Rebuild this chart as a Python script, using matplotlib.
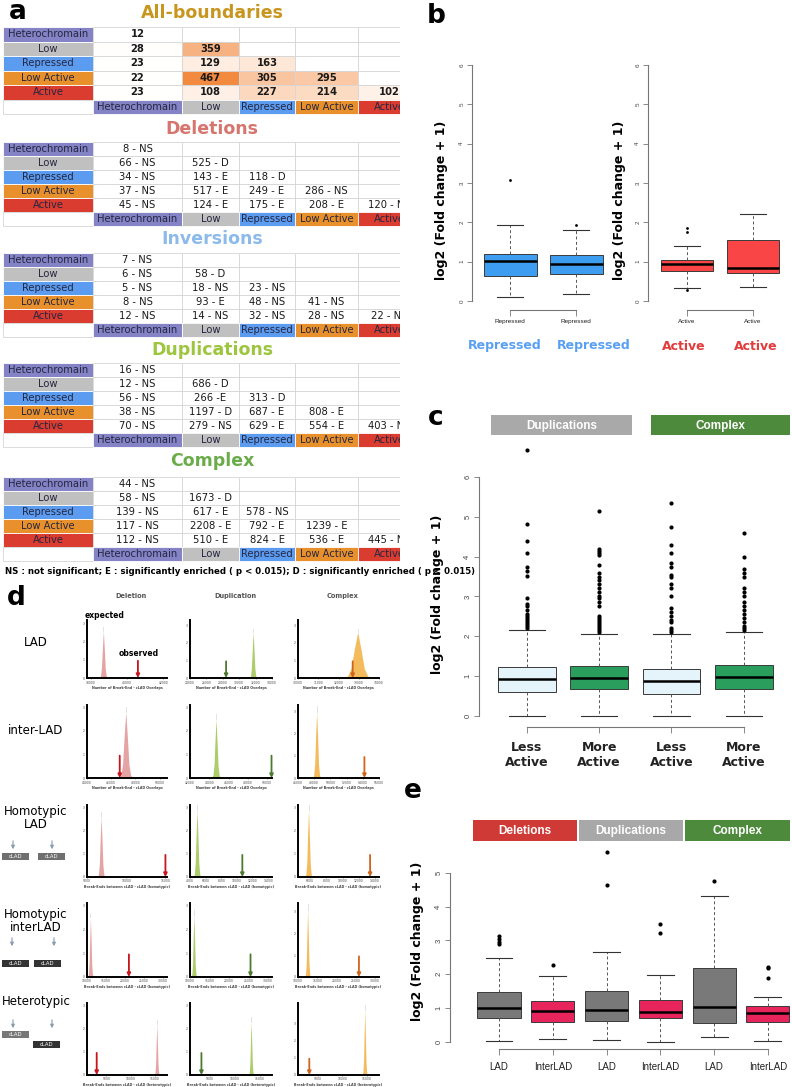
import numpy as np
import matplotlib
matplotlib.use("Agg")
import matplotlib.pyplot as plt
from matplotlib.patches import Rectangle
from matplotlib.colors import LinearSegmentedColormap, Normalize

# ---------------- DATA ----------------
row_labels = ["Heterochromain", "Low", "Repressed", "Low Active", "Active"]
state_colors = ["#8383c6", "#c0c0c0", "#5b9cf0", "#e8912c", "#db3c30"]

all_boundaries = [[12], [28, 359], [23, 129, 163], [22, 467, 305, 295], [23, 108, 227, 214, 102]]
deletions = [["8 - NS"], ["66 - NS", "525 - D"], ["34 - NS", "143 - E", "118 - D"],
             ["37 - NS", "517 - E", "249 - E", "286 - NS"],
             ["45 - NS", "124 - E", "175 - E", "208 - E", "120 - NS"]]
inversions = [["7 - NS"], ["6 - NS", "58 - D"], ["5 - NS", "18 - NS", "23 - NS"],
              ["8 - NS", "93 - E", "48 - NS", "41 - NS"],
              ["12 - NS", "14 - NS", "32 - NS", "28 - NS", "22 - NS"]]
duplications = [["16 - NS"], ["12 - NS", "686 - D"], ["56 - NS", "266 -E", "313 - D"],
                ["38 - NS", "1197 - D", "687 - E", "808 - E"],
                ["70 - NS", "279 - NS", "629 - E", "554 - E", "403 - NS"]]
complex_sv = [["44 - NS"], ["58 - NS", "1673 - D"], ["139 - NS", "617 - E", "578 - NS"],
              ["117 - NS", "2208 - E", "792 - E", "1239 - E"],
              ["112 - NS", "510 - E", "824 - E", "536 - E", "445 - NS"]]
table_titles = ["All-boundaries", "Deletions", "Inversions", "Duplications", "Complex"]
title_colors = ["#c8951f", "#d6746e", "#8cbaea", "#9dc53e", "#6aac4a"]
footnote = "NS : not significant; E : significantly enriched ( p < 0.015); D : significantly enriched ( p < 0.015)"

# panel b
b_left_labels = ["Repressed", "Repressed"]
b_left_whislo = [0.10, 0.18]; b_left_q1 = [0.63, 0.68]; b_left_med = [1.01, 0.94]
b_left_q3 = [1.20, 1.18]; b_left_whishi = [1.93, 1.80]; b_left_fliers = [[3.07], [1.92]]
b_right_labels = ["Active", "Active"]
b_right_whislo = [0.33, 0.35]; b_right_q1 = [0.75, 0.70]; b_right_med = [0.93, 0.83]
b_right_q3 = [1.03, 1.56]; b_right_whishi = [1.40, 2.21]; b_right_fliers = [[0.27, 1.75, 1.86], []]

# panel c
c_labels = ["Less\nActive", "More\nActive", "Less\nActive", "More\nActive"]
c_whislo = [0.0, 0.0, 0.0, 0.0]
c_q1 = [0.60, 0.68, 0.55, 0.68]
c_med = [0.92, 0.96, 0.87, 0.97]
c_q3 = [1.22, 1.25, 1.17, 1.27]
c_whishi = [2.15, 2.07, 2.05, 2.10]
c_fliers = [
    [2.2, 2.25, 2.3, 2.35, 2.4, 2.45, 2.5, 2.55, 2.65, 2.75, 2.8, 2.95, 3.52, 3.65, 3.75, 4.1, 4.4, 4.83, 6.67],
    [2.1, 2.15, 2.2, 2.25, 2.3, 2.35, 2.4, 2.45, 2.5, 2.75, 2.85, 2.95, 3.0, 3.1, 3.2, 3.3, 3.4, 3.5, 3.6,
     3.8, 4.05, 4.1, 4.15, 4.2, 5.15],
    [2.1, 2.15, 2.2, 2.35, 2.4, 2.5, 2.6, 2.7, 3.0, 3.2, 3.3, 3.5, 3.55, 3.75, 3.85, 4.1, 4.3, 4.75, 5.35],
    [2.15, 2.2, 2.25, 2.35, 2.45, 2.55, 2.65, 2.75, 2.85, 3.0, 3.1, 3.2, 3.5, 3.6, 3.7, 4.0, 4.58]]
c_groups = ["Duplications", "Complex"]

# panel e
e_labels = ["LAD", "InterLAD", "LAD", "InterLAD", "LAD", "InterLAD"]
e_whislo = [0.03, 0.08, 0.05, 0.0, 0.15, 0.03]
e_q1 = [0.70, 0.58, 0.62, 0.72, 0.55, 0.58]
e_med = [1.00, 0.91, 0.95, 0.90, 1.02, 0.85]
e_q3 = [1.48, 1.20, 1.50, 1.25, 2.18, 1.05]
e_whishi = [2.48, 1.96, 2.65, 1.98, 4.30, 1.32]
e_fliers = [[2.88, 2.95, 3.05, 3.12], [2.28], [4.65, 5.60], [3.23, 3.48], [4.75], [1.88, 2.18, 2.22]]
e_groups = ["Deletions", "Duplications", "Complex"]

# panel d (permutation distributions)
d_cols = ["Deletion", "Duplication", "Complex"]
d_rows = ["LAD", "inter-LAD", "Homotypic\nLAD", "Homotypic\ninterLAD", "Heterotypic"]
d_xlabels = ["Number of Break-End - cLAD Overlaps", "Number of Break-End - cLAD Overlaps",
             "Break-Ends between cLAD - cLAD (homotypic)", "Break-Ends between cLAD - cLAD (homotypic)",
             "Break-Ends between cLAD - cLAD (heterotypic)"]
d_xlim = [[(37800, 42200), (24000, 34000), (30000, 34000)],
          [(44000, 50600), (42000, 50500), (46000, 56000)],
          [(5000, 15200), (4000, 14500), (4500, 14500)],
          [(10000, 31000), (10000, 31000), (10000, 31000)],
          [(1000, 17500), (1000, 17500), (1000, 17500)]]
d_xticks = [[[38000, 40000, 42000], [24000, 26000, 28000, 30000, 32000, 34000], [30000, 31000, 32000, 33000, 34000]],
            [[44000, 46000, 48000, 50000], [42000, 44000, 46000, 48000, 50000], [46000, 48000, 50000, 52000, 54000, 56000]],
            [[5000, 10000, 15000], [4000, 6000, 8000, 10000, 12000, 14000], [6000, 8000, 10000, 12000, 14000]],
            [[10000, 15000, 20000, 25000, 30000]] * 3,
            [[5000, 10000, 15000]] * 3]
d_peak_x = [[38700, 31700, 32950], [47200, 44700, 48300], [6800, 4900, 5800], [10900, 11000, 12500], [15400, 13300, 14600]]
d_peak_w = [[420, 850, 1300], [1050, 850, 950], [900, 900, 850], [1400, 1400, 1400], [1000, 1000, 1000]]
d_peak_h = [[2.6, 2.6, 2.6], [2.8, 2.5, 3.0], [2.6, 2.9, 2.9], [2.5, 2.6, 3.1], [2.2, 2.3, 3.8]]
d_arrow_x = [[40600, 28400, 32700], [46700, 50450, 54200], [15000, 10700, 13400], [21000, 25500, 25800], [3000, 3300, 3300]]
d_ymax = [[3.2, 3.3, 3.3], [3.1, 3.1, 3.3], [3.1, 3.1, 3.1], [3.1, 3.1, 3.4], [3.1, 3.1, 4.2]]
peak_profile = [0.0, 0.05, 0.22, 0.65, 1.0, 0.62, 0.2, 0.05, 0.0]
d_peak_colors = ["#e39a9a", "#a3c85a", "#f2b44a"]
d_arrow_colors = ["#c8141c", "#4b7a2e", "#cf641c"]

# ---------------- FIGURE ----------------
W, H = 792, 1087
plt.rcParams["font.family"] = ["DejaVu Sans"]
fig = plt.figure(figsize=(W / 100, H / 100), dpi=100)
fig.patch.set_facecolor("white")


def px_axes(x0, y0, x1, y1, **kw):
    ax = fig.add_axes([x0 / W, 1 - y1 / H, (x1 - x0) / W, (y1 - y0) / H], **kw)
    ax.patch.set_alpha(0)
    return ax


axO = px_axes(0, 0, W, H)
axO.set_xlim(0, W)
axO.set_ylim(H, 0)
axO.axis("off")

# panel letters
for lab, x, y in [("a", 18, 12), ("b", 436, 16), ("c", 436, 418), ("d", 16, 598), ("e", 413, 791)]:
    axO.text(x, y, lab, fontsize=19, fontweight="bold", ha="center", va="center")

# ---------------- PANEL A ----------------
axA = px_axes(0, 0, 400, 590)
axA.set_xlim(0, 400)
axA.set_ylim(590, 0)
axA.axis("off")
col_edges = [3, 93, 182, 239, 295, 358, 420]
grid = "#d6d6d6"
heat = LinearSegmentedColormap.from_list("heat", ["#ffffff", "#fde6d4", "#f9c29c", "#f28a40"])
hnorm = Normalize(20, 467)
txt_dark = "#262640"
tables = [all_boundaries, deletions, inversions, duplications, complex_sv]
title_y = [13, 129, 239, 350, 461]
tops = [27, 141.7, 253, 363, 477]
rhs = [14.5, 14.1, 14.0, 14.0, 14.0]
for t, data in enumerate(tables):
    axA.text(212, title_y[t], table_titles[t], color=title_colors[t], fontsize=12.5,
             fontweight="bold", ha="center", va="center")
    top, rh = tops[t], rhs[t]
    for r in range(6):
        y0 = top + r * rh
        if r < 5:
            axA.add_patch(Rectangle((col_edges[0], y0), col_edges[1] - col_edges[0], rh,
                                    fc=state_colors[r], ec="white", lw=0.6))
            axA.text(48, y0 + rh / 2, row_labels[r], fontsize=7.2, color=txt_dark,
                     ha="center", va="center", clip_on=True)
            for c in range(5):
                x0, x1 = col_edges[c + 1], col_edges[c + 2]
                fc = "white"
                if c <= r and t == 0:
                    fc = heat(hnorm(data[r][c]))
                axA.add_patch(Rectangle((x0, y0), x1 - x0, rh, fc=fc, ec=grid, lw=0.6))
                if c <= r:
                    axA.text((x0 + x1) / 2, y0 + rh / 2, str(data[r][c]), fontsize=7.2,
                             fontweight="bold" if t == 0 else "normal", color="#1a1a1a",
                             ha="center", va="center", clip_on=True)
        else:
            axA.add_patch(Rectangle((col_edges[0], y0), col_edges[1] - col_edges[0], rh,
                                    fc="white", ec=grid, lw=0.6))
            for c in range(5):
                x0, x1 = col_edges[c + 1], col_edges[c + 2]
                axA.add_patch(Rectangle((x0, y0), x1 - x0, rh, fc=state_colors[c], ec="white", lw=0.6))
                axA.text((x0 + x1) / 2, y0 + rh / 2, row_labels[c], fontsize=7.2, color=txt_dark,
                         ha="center", va="center", clip_on=True)
axA.text(5, 571, footnote, fontsize=6.2, fontweight="bold", ha="left", va="center")

# ---------------- PANEL D ----------------
col_x = [(87, 167), (190, 272), (298, 379)]
row_y = [(620, 678), (705, 778), (805, 877), (903, 977), (1003, 1075)]
for j, name in enumerate(d_cols):
    axO.text((col_x[j][0] + col_x[j][1]) / 2 + 4, 596, name, fontsize=4.8, fontweight="bold",
             color="#555555", ha="center", va="center")
row_label_y = [642, 731, 818, 921, 1002]
for i, name in enumerate(d_rows):
    axO.text(36, row_label_y[i], name, fontsize=8.5, ha="center", va="center", linespacing=1.05)

for i in range(5):
    for j in range(3):
        ax = px_axes(col_x[j][0], row_y[i][0], col_x[j][1], row_y[i][1])
        lo, hi = d_xlim[i][j]
        ax.set_xlim(lo, hi)
        ax.set_ylim(0, d_ymax[i][j])
        xs = np.linspace(d_peak_x[i][j] - d_peak_w[i][j] / 2, d_peak_x[i][j] + d_peak_w[i][j] / 2,
                         len(peak_profile))
        ys = np.array(peak_profile) * d_peak_h[i][j]
        ax.fill_between(xs, 0, ys, color=d_peak_colors[j], alpha=0.9, lw=0)
        ax.plot([d_peak_x[i][j]] * 2, [d_peak_h[i][j], d_peak_h[i][j] * 1.08], color="#dddddd", lw=0.6)
        ax.annotate("", xy=(d_arrow_x[i][j], 0.0), xytext=(d_arrow_x[i][j], 0.95),
                    arrowprops=dict(arrowstyle="-|>", color=d_arrow_colors[j], lw=1.3,
                                    mutation_scale=5, shrinkA=0, shrinkB=0))
        for s in ["top", "right"]:
            ax.spines[s].set_visible(False)
        for s in ["left", "bottom"]:
            ax.spines[s].set_linewidth(1.4)
        ax.set_xticks(d_xticks[i][j])
        ax.set_yticks([0, 1, 2, 3])
        ax.tick_params(labelsize=2.2, length=1, width=0.4, pad=0.8, colors="#444444")
        ax.set_xlabel(d_xlabels[i], fontsize=2.4, fontweight="bold", color="#444444", labelpad=1)
        if i == 0 and j == 0:
            ax.text(38750, 3.45, "expected", fontsize=5.5, fontweight="bold", ha="center",
                    va="center", clip_on=False)
            ax.text(40650, 1.35, "observed", fontsize=5.5, fontweight="bold", ha="center",
                    va="center", clip_on=False)

# icons for homotypic / heterotypic rows
icon_arrow = "#8a9bb0"
def icon(xa, ya, xb, yb, shade):
    axO.annotate("", xy=(xa, ya + 14), xytext=(xa, ya),
                 arrowprops=dict(arrowstyle="-|>", color=icon_arrow, lw=0.8, mutation_scale=5))
    axO.add_patch(Rectangle((xb, yb), 27, 7, fc=shade, ec="none"))
    axO.text(xb + 13.5, yb + 3.5, "cLAD", fontsize=3.8, color="white", ha="center", va="center")

icon(13, 838, 2, 853, "#6f6f6f"); icon(52, 838, 38, 853, "#6f6f6f")
icon(12, 935, 2, 960, "#333333"); icon(54, 935, 34, 960, "#333333")
icon(13, 1017, 2, 1031, "#777777"); icon(52, 1017, 33, 1041, "#333333")

# ---------------- BOX HELPERS ----------------
def mkstats(wlo, q1, med, q3, whi, fl):
    return [dict(whislo=a, q1=b, med=c, q3=d, whishi=e, fliers=f)
            for a, b, c, d, e, f in zip(wlo, q1, med, q3, whi, fl)]


def boxes(ax, stats, colors, ms=2.6, capw=0.4):
    bp = ax.bxp(stats, positions=list(range(1, len(stats) + 1)), widths=0.8, capwidths=capw,
                patch_artist=True, manage_ticks=False,
                boxprops=dict(edgecolor="#3a3a3a", linewidth=0.7),
                medianprops=dict(color="black", linewidth=1.8, solid_capstyle="butt"),
                whiskerprops=dict(color="#555555", linestyle=(0, (3, 2.5)), linewidth=0.7),
                capprops=dict(color="#333333", linewidth=0.8),
                flierprops=dict(marker="o", markerfacecolor="black", markeredgecolor="black",
                                markersize=ms, markeredgewidth=0))
    for p, c in zip(bp["boxes"], colors):
        p.set_facecolor(c)


def r_axes(ax, ytop, n, labels, ysize=5, xsize=5, xbold=False, xfamily="Liberation Sans", xpad=3):
    for s in ["top", "right"]:
        ax.spines[s].set_visible(False)
    ax.spines["left"].set_bounds(0, ytop)
    ax.spines["bottom"].set_bounds(1, n)
    for s in ["left", "bottom"]:
        ax.spines[s].set_color("#777777")
        ax.spines[s].set_linewidth(0.8)
    ax.set_yticks(list(range(0, ytop + 1)))
    ax.set_xticks(list(range(1, n + 1)))
    ax.set_xticklabels(labels, fontsize=xsize, fontweight="bold" if xbold else "normal",
                       family=xfamily, linespacing=1.25, color="#222222")
    ax.tick_params(axis="y", labelrotation=90, labelsize=ysize, length=3.5, width=0.6,
                   color="#777777", labelcolor="#444444", pad=2)
    ax.tick_params(axis="x", length=4, width=0.6, color="#777777", pad=xpad)
    for lab in ax.get_yticklabels():
        lab.set_family("Liberation Sans")
        lab.set_va("center")


ylab = "log2 (Fold change + 1)"

# ---------------- PANEL B ----------------
axb1 = px_axes(472, 55.6, 604, 310.4)
axb1.set_xlim(0.42, 2.42); axb1.set_ylim(-0.24, 6.24)
boxes(axb1, mkstats(b_left_whislo, b_left_q1, b_left_med, b_left_q3, b_left_whishi, b_left_fliers),
      ["#3d9df0", "#3d9df0"], ms=2.0)
r_axes(axb1, 6, 2, b_left_labels, ysize=4.5, xsize=4.6, xpad=2)
axb2 = px_axes(648, 55.6, 790, 310.4)
axb2.set_xlim(0.41, 2.56); axb2.set_ylim(-0.24, 6.24)
boxes(axb2, mkstats(b_right_whislo, b_right_q1, b_right_med, b_right_q3, b_right_whishi, b_right_fliers),
      ["#f94545", "#f94545"], ms=2.0)
r_axes(axb2, 6, 2, b_right_labels, ysize=4.5, xsize=4.6, xpad=2)
axO.text(442, 200, ylab, rotation=90, fontsize=9, fontweight="bold", ha="center", va="center")
axO.text(620, 200, ylab, rotation=90, fontsize=9, fontweight="bold", ha="center", va="center")
for x, t, c in [(505, "Repressed", "#5aa0f2"), (594, "Repressed", "#5aa0f2"),
                (684, "Active", "#e23b3b"), (756, "Active", "#e23b3b")]:
    axO.text(x, 346, t, color=c, fontsize=9, fontweight="bold", ha="center", va="center")

# ---------------- PANEL C ----------------
axc = px_axes(479, 441, 790, 727)
axc.set_xlim(0.336, 4.64); axc.set_ylim(-0.276, 6.9)
boxes(axc, mkstats(c_whislo, c_q1, c_med, c_q3, c_whishi, c_fliers),
      ["#e5f3fa", "#2a9e5c", "#e5f3fa", "#2a9e5c"], ms=3.0, capw=0.5)
r_axes(axc, 6, 4, c_labels, ysize=5.5, xsize=9, xbold=True, xfamily="DejaVu Sans", xpad=6)
axO.text(437, 594, ylab, rotation=90, fontsize=9, fontweight="bold", ha="center", va="center")
for (x0, x1), g, c in zip([(491, 632), (651, 790)], c_groups, ["#a9a9a9", "#4e8a3c"]):
    axO.add_patch(Rectangle((x0, 415), x1 - x0, 20, fc=c, ec="none"))
    axO.text((x0 + x1) / 2, 425.5, g, color="white", fontsize=8.5, fontweight="bold",
             family="Liberation Sans", ha="center", va="center")

# ---------------- PANEL E ----------------
axe = px_axes(450, 849, 790, 1049)
axe.set_xlim(0.089, 6.41); axe.set_ylim(-0.207, 5.7)
boxes(axe, mkstats(e_whislo, e_q1, e_med, e_q3, e_whishi, e_fliers),
      ["#797979", "#e8245c"] * 3, ms=3.0, capw=0.5)
r_axes(axe, 5, 6, e_labels, ysize=5.5, xsize=7, xpad=5)
axO.text(417, 941, ylab, rotation=90, fontsize=9, fontweight="bold", ha="center", va="center")
for (x0, x1), g, c in zip([(473, 577), (579, 683), (685, 790)], e_groups, ["#cf3a36", "#a8a8a8", "#4e8a3c"]):
    axO.add_patch(Rectangle((x0, 820), x1 - x0, 21, fc=c, ec="none"))
    axO.text((x0 + x1) / 2, 831, g, color="white", fontsize=8.5, fontweight="bold",
             family="Liberation Sans", ha="center", va="center")

fig.savefig("out.png", dpi=100, facecolor="white")
